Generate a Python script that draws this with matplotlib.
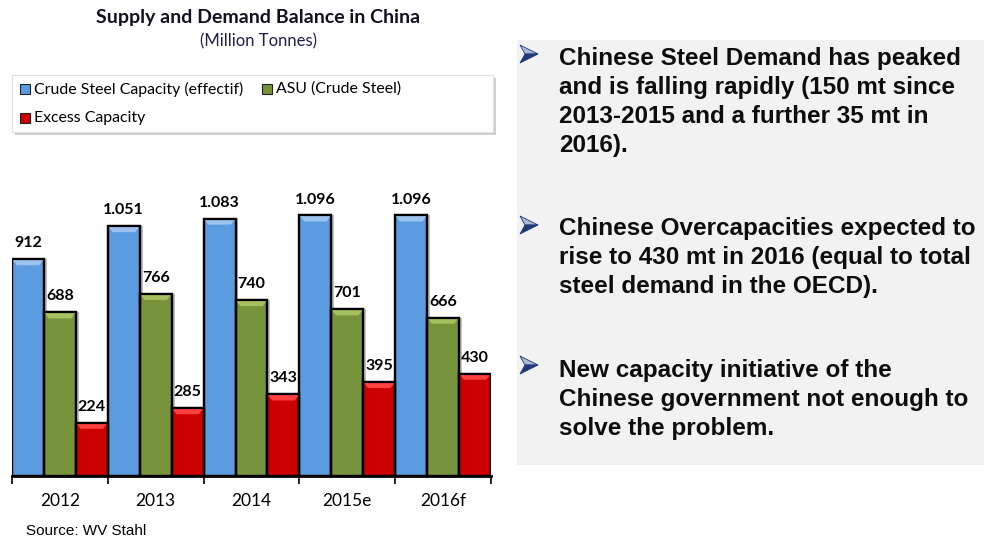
import matplotlib
matplotlib.use("Agg")
import matplotlib.pyplot as plt
from matplotlib.patches import Rectangle, Polygon
import numpy as np

years = ["2012", "2013", "2014", "2015e", "2016f"]
capacity = [912, 1051, 1083, 1096, 1096]
asu = [688, 766, 740, 701, 666]
excess = [224, 285, 343, 395, 430]
capacity_labels = ["912", "1.051", "1.083", "1.096", "1.096"]
series_names = ["Crude Steel Capacity (effectif)", "ASU (Crude Steel)", "Excess Capacity"]

bullets = [
    ["Chinese Steel Demand has peaked", "and is falling rapidly (150 mt since",
     "2013-2015 and a further 35 mt in", "2016)."],
    ["Chinese Overcapacities expected to", "rise to 430 mt in 2016 (equal to total",
     "steel demand in the OECD)."],
    ["New capacity initiative of the", "Chinese government not enough to",
     "solve the problem."],
]

W, H = 986, 542
fig = plt.figure(figsize=(W / 100, H / 100), dpi=100)
fig.patch.set_facecolor("white")

def fx(px): return px / W
def fy(py): return 1 - py / H

colors = ["#5B9BDF", "#77933C", "#CC0000"]
tops = ["#9CC3F0", "#A6C060", "#FF4040"]

ax = fig.add_axes([fx(12), fy(476), fx(491) - fx(12), fy(167) - fy(476)])
ymax = 1300
ax.set_ylim(0, ymax)
ax.set_xlim(-0.5, len(years) - 0.5)
x = np.arange(len(years))
bw = 1 / 3
px_per_unit = (476 - 167) / ymax
bevel = 6 / px_per_unit

series = [capacity, asu, excess]
for k, (vals, col, tc) in enumerate(zip(series, colors, tops)):
    pos = x + (k - 1) * bw
    ax.bar(pos + 0.03, vals, width=bw, bottom=0, color="#BFBFBF", zorder=1,
           linewidth=0)
    ax.bar(pos, vals, width=bw, color=col, edgecolor="black", linewidth=1.6,
           zorder=2, label=series_names[k])
    for p, v in zip(pos, vals):
        l, r = p - bw / 2, p + bw / 2
        ins = 0.05
        ax.add_patch(Polygon([[l, v], [r, v], [r - ins, v - bevel], [l + ins, v - bevel]],
                             closed=True, facecolor=tc, edgecolor="none", zorder=3))
        ax.add_patch(Rectangle((l, 0), r - l, v, fill=False, edgecolor="black",
                               linewidth=1.6, zorder=4))

labels_all = [capacity_labels, [str(v) for v in asu], [str(v) for v in excess]]
for k, vals in enumerate(series):
    pos = x + (k - 1) * bw
    for p, v, t in zip(pos, vals, labels_all[k]):
        ax.annotate(t, (p, v), xytext=(0, 11.5), textcoords="offset points",
                    ha="center", va="center", fontsize=11.5, fontweight="bold",
                    family="Lato", color="black", zorder=6)

for s in ["top", "right", "left"]:
    ax.spines[s].set_visible(False)
ax.spines["bottom"].set_linewidth(2)
ax.spines["bottom"].set_zorder(5)
ax.set_yticks([])
ax.set_xticks(x)
ax.set_xticklabels(years, family="Lato", fontsize=12.5)
ax.tick_params(axis="x", which="major", length=0, pad=12)
ax.set_xticks(np.arange(-0.5, len(years)), minor=True)
ax.tick_params(axis="x", which="minor", length=6, width=1.2, direction="out")
ax.set_facecolor("none")

# Title
fig.text(fx(258), fy(17), "Supply and Demand Balance in China", ha="center", va="center",
         family="Lato", fontweight="bold", fontsize=14, color="#111122")
fig.text(fx(258), fy(41), "(Million Tonnes)", ha="center", va="center",
         family="Lato", fontsize=12, color="#1F2050")

# Legend box
fig.patches.append(Rectangle((fx(15), fy(135)), fx(493) - fx(12), fy(75) - fy(132),
                             transform=fig.transFigure, facecolor="#D0D0D0",
                             edgecolor="none", zorder=0))
fig.patches.append(Rectangle((fx(12), fy(132)), fx(493) - fx(12), fy(75) - fy(132),
                             transform=fig.transFigure, facecolor="white",
                             edgecolor="#E0E0E0", linewidth=0.8, zorder=1))
leg_pos = [(20, 89), (262, 89), (20, 118)]
for (lx, ly), col, name in zip(leg_pos, colors, series_names):
    fig.patches.append(Rectangle((fx(lx), fy(ly + 5)), fx(10), 10 / H,
                                 transform=fig.transFigure, facecolor=col,
                                 edgecolor="#222222", linewidth=0.8, zorder=2))
    fig.text(fx(lx + 14), fy(ly), name, ha="left", va="center", family="Lato",
             fontsize=11.4, color="black")

fig.text(fx(26), fy(531), "Source: WV Stahl", ha="left", va="center",
         family="Liberation Sans", fontsize=11, color="black")

# Right panel
fig.patches.append(Rectangle((fx(517), fy(465)), fx(984) - fx(517), fy(40) - fy(465),
                             transform=fig.transFigure, facecolor="#F2F2F2",
                             edgecolor="none", zorder=0))
first_baselines = [65, 235, 377]
arrow_centers = [54, 225, 365]
for lines, b0, ac in zip(bullets, first_baselines, arrow_centers):
    # bullet arrowhead (two-tone)
    tip = (fx(538), fy(ac))
    notch = (fx(525), fy(ac))
    top_pt = (fx(520), fy(ac - 9))
    bot_pt = (fx(520), fy(ac + 9))
    fig.patches.append(Polygon([top_pt, tip, notch], closed=True,
                               transform=fig.transFigure, facecolor="#A9B9D6",
                               edgecolor="#1F3A7A", linewidth=0.6, zorder=2))
    fig.patches.append(Polygon([notch, tip, bot_pt], closed=True,
                               transform=fig.transFigure, facecolor="#1F3A7A",
                               edgecolor="#1F3A7A", linewidth=0.6, zorder=2))
    for i, line in enumerate(lines):
        fig.text(fx(559), fy(b0 + 29 * i), line, ha="left", va="baseline",
                 family="Liberation Sans", fontweight="bold", fontsize=17.5,
                 color="#0D0D0D")

fig.savefig("out.png", dpi=100)
